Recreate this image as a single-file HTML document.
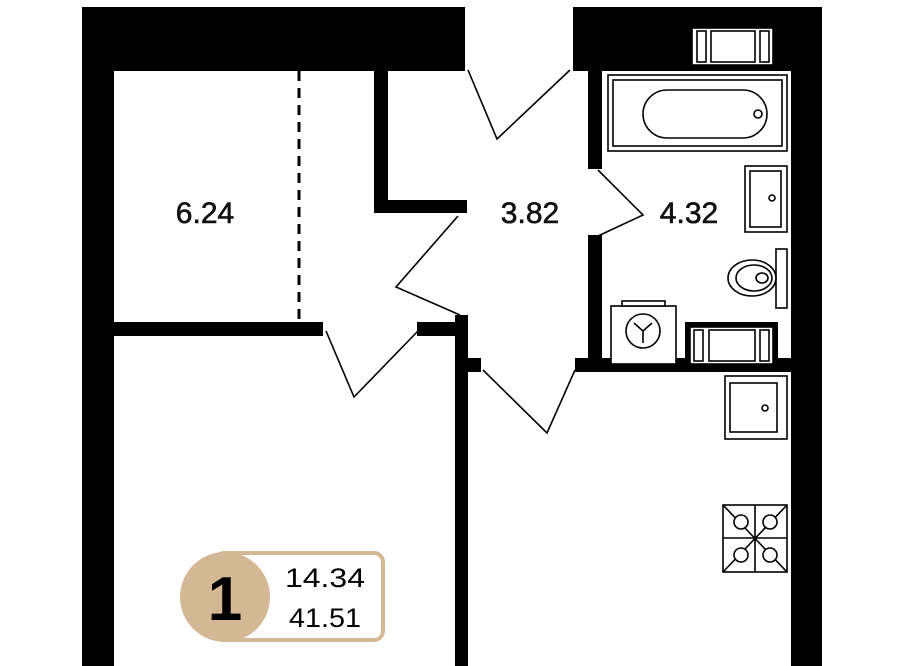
<!DOCTYPE html>
<html><head><style>html,body{margin:0;padding:0;background:#fff}svg{display:block}</style></head>
<body>
<svg width="900" height="666" viewBox="0 0 900 666" xmlns="http://www.w3.org/2000/svg" font-family="Liberation Sans, sans-serif">
<rect width="900" height="666" fill="#fff"/>
<g fill="#000">
<rect x="82" y="7" width="383" height="64"/>
<rect x="82" y="7" width="32" height="659"/>
<rect x="573" y="7" width="249" height="64"/>
<rect x="791" y="7" width="31" height="659"/>
<rect x="113" y="322" width="210" height="14"/>
<rect x="417" y="322" width="50" height="14"/>
<rect x="374" y="71" width="14" height="142"/>
<rect x="374" y="200" width="93" height="13"/>
<rect x="455" y="315" width="13" height="351"/>
<rect x="467" y="358" width="14" height="14"/>
<rect x="575" y="358" width="216" height="14"/>
<rect x="588" y="71" width="14" height="98"/>
<rect x="588" y="235" width="14" height="124"/>
<rect x="685" y="322" width="93" height="37"/>
</g>
<line x1="299" y1="71" x2="299" y2="322" stroke="#000" stroke-width="3" stroke-dasharray="10,7"/>
<g fill="none" stroke="#000" stroke-width="1.6">
<polyline points="468,70 497,139 570,70"/>
<polyline points="458,216 396,287 460,315"/>
<polyline points="326,331 354,397 418,331"/>
<polyline points="483,370 547,433 575,370"/>
<polyline points="598,170 643,215 598,236"/>
</g>
<g fill="#fff" stroke="#000" stroke-width="1.6">
<rect x="692" y="28" width="81" height="37"/>
<rect x="697" y="31" width="9" height="31"/><rect x="711" y="31" width="44" height="31"/><rect x="760" y="31" width="9" height="31"/>
<rect x="608" y="75" width="179" height="76"/>
<rect x="613" y="80" width="169" height="66"/>
<rect x="643" y="90" width="124" height="48" rx="24"/>
<circle cx="758" cy="114" r="4"/>
<rect x="745" y="166" width="42" height="66"/>
<rect x="750" y="171" width="31" height="56"/>
<circle cx="772" cy="198" r="3"/>
<rect x="776" y="249" width="11" height="59"/>
<ellipse cx="752" cy="278" rx="24" ry="18"/>
<ellipse cx="754" cy="278" rx="18" ry="13"/>
<ellipse cx="762" cy="278" rx="6" ry="5"/>
<rect x="611" y="306" width="65" height="58"/>
<rect x="622" y="301" width="43" height="5"/>
<circle cx="643" cy="331" r="17"/>
<path d="M643 331 L643 343 M643 331 L634 323 M643 331 L652 323" fill="none"/>
<rect x="690" y="327" width="83" height="37"/>
<rect x="694" y="330" width="9" height="31"/><rect x="709" y="330" width="46" height="31"/><rect x="760" y="330" width="9" height="31"/>
<rect x="725" y="376" width="62" height="63"/>
<rect x="730" y="383" width="47" height="49"/>
<circle cx="765" cy="408" r="3"/>
<rect x="723" y="505" width="64" height="67"/>
<path d="M755 505 V572 M723 538 H787 M723 505 L787 572 M787 505 L723 572" fill="none"/>
<circle cx="741" cy="522" r="7"/><circle cx="770" cy="522" r="7"/>
<circle cx="741" cy="555" r="7"/><circle cx="770" cy="555" r="7"/>
</g>
<g font-size="30" fill="#111" stroke="#111" stroke-width="0.6" text-anchor="middle">
<text x="205" y="223">6.24</text>
<text x="530" y="223">3.82</text>
<text x="689" y="223">4.32</text>
</g>
<rect x="215" y="553" width="168" height="87" rx="9" fill="#fff" stroke="#d4b896" stroke-width="4"/>
<ellipse cx="225" cy="597" rx="45" ry="45" fill="#d4b896"/>
<text x="225" y="620" font-size="62" font-weight="bold" text-anchor="middle" fill="#000">1</text>
<text x="325" y="587" font-size="27" text-anchor="middle" fill="#000" textLength="80" lengthAdjust="spacingAndGlyphs">14.34</text>
<text x="325" y="627" font-size="27" text-anchor="middle" fill="#000" textLength="72" lengthAdjust="spacingAndGlyphs">41.51</text>
</svg>
</body></html>
